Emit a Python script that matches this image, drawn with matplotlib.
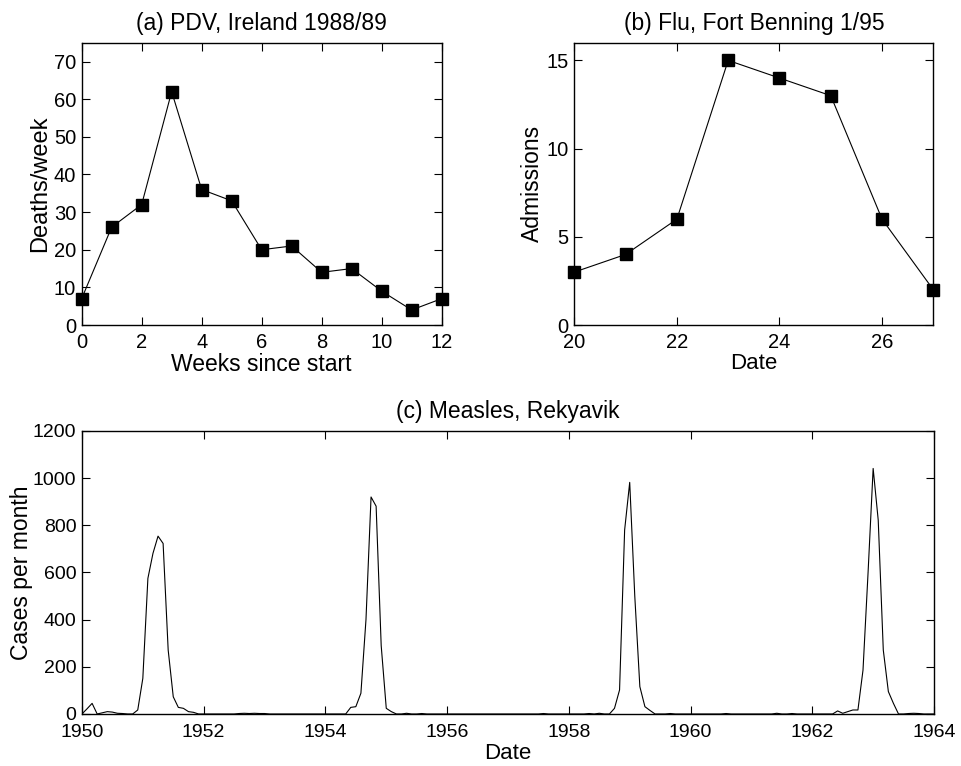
import numpy as np
from matplotlib import pyplot as plt

plt.rcParams['font.family'] = ['Liberation Sans', 'DejaVu Sans']

# (a) PDV deaths per week
pdv_weeks = [0, 1, 2, 3, 4, 5, 6, 7, 8, 9, 10, 11, 12]
pdv_deaths = [7, 26, 32, 62, 36, 33, 20, 21, 14, 15, 9, 4, 7]

# (b) Flu admissions, Fort Benning
flu_dates = [20, 21, 22, 23, 24, 25, 26, 27]
flu_admissions = [3, 4, 6, 15, 14, 13, 6, 2]

# (c) Measles, monthly cases from Jan 1950
measles_cases = [
    0, 22, 45, 0, 5, 10, 8, 3, 2, 0, 0, 17,          # 1950
    151, 575, 681, 754, 723, 271, 73, 28, 24, 10, 7, 0,  # 1951
    0, 0, 0, 0, 0, 0, 0, 2, 3, 2, 3, 2,              # 1952
    2, 0, 0, 0, 0, 0, 0, 0, 0, 0, 0, 0,              # 1953
    0, 0, 0, 0, 0, 28, 31, 88, 400, 920, 881, 290,   # 1954
    24, 10, 0, 0, 3, 0, 0, 2, 0, 0, 0, 0,            # 1955
    0, 0, 0, 0, 0, 0, 0, 0, 0, 0, 0, 0,              # 1956
    0, 0, 0, 0, 0, 0, 0, 2, 0, 0, 0, 0,              # 1957
    0, 0, 0, 0, 2, 0, 3, 0, 0, 24, 102, 780,         # 1958
    982, 500, 116, 31, 15, 0, 0, 0, 2, 0, 0, 0,      # 1959
    0, 0, 0, 0, 0, 0, 0, 2, 0, 0, 0, 0,              # 1960
    0, 0, 0, 0, 0, 3, 0, 0, 2, 0, 0, 0,              # 1961
    0, 0, 0, 0, 0, 13, 3, 10, 17, 17, 186, 600,      # 1962
    1041, 822, 271, 95, 45, 0, 0, 2, 3, 2, 0, 0,     # 1963
    0,                                               # 1964
]
measles_dates = 1950 + np.arange(len(measles_cases)) / 12.0


def matlab_style(ax, size=14.5, xpad=6):
    for s in ax.spines.values():
        s.set_linewidth(1.0)
    ax.tick_params(direction='in', top=True, right=True, length=5.5,
                   width=0.8, labelsize=size)
    ax.tick_params(axis='x', pad=xpad)
    ax.tick_params(axis='y', pad=4)


fig = plt.figure(figsize=(9.62, 7.66), dpi=100)

ax1 = fig.add_axes([0.0849, 0.5757, 0.3742, 0.3685])
ax1.plot(pdv_weeks, pdv_deaths, color='black', lw=0.8, marker='s',
         markersize=8.4, clip_on=False, zorder=3)
ax1.set_xlim(0, 12)
ax1.set_ylim(0, 75)
ax1.set_xticks(range(0, 13, 2))
ax1.set_yticks(range(0, 71, 10))
ax1.set_title('(a) PDV, Ireland 1988/89', fontsize=16.5, pad=9)
ax1.set_xlabel('Weeks since start', fontsize=16.5, labelpad=0.5)
ax1.set_ylabel('Deaths/week', fontsize=17, labelpad=2)
matlab_style(ax1)

ax2 = fig.add_axes([0.597, 0.5757, 0.3732, 0.3685])
ax2.plot(flu_dates, flu_admissions, color='black', lw=0.8, marker='s',
         markersize=8.4, clip_on=False, zorder=3)
ax2.set_xlim(20, 27)
ax2.set_ylim(0, 16)
ax2.set_xticks(range(20, 27, 2))
ax2.set_yticks([0, 5, 10, 15])
ax2.set_title('(b) Flu, Fort Benning 1/95', fontsize=16.5, pad=9)
ax2.set_xlabel('Date', fontsize=16, labelpad=0.5)
ax2.set_ylabel('Admissions', fontsize=16.5, labelpad=2)
matlab_style(ax2)

ax3 = fig.add_axes([0.0852, 0.0679, 0.8857, 0.3695])
ax3.plot(measles_dates, measles_cases, color='black', lw=0.8)
ax3.set_xlim(1950, 1964)
ax3.set_ylim(0, 1200)
ax3.set_xticks(range(1950, 1965, 2))
ax3.set_yticks(range(0, 1201, 200))
ax3.set_title('(c) Measles, Rekyavik', fontsize=16.5, pad=9)
ax3.set_xlabel('Date', fontsize=16, labelpad=2)
ax3.set_ylabel('Cases per month', fontsize=16.5, labelpad=0)
matlab_style(ax3, 14, xpad=7)

fig.savefig('out.png', dpi=100)
